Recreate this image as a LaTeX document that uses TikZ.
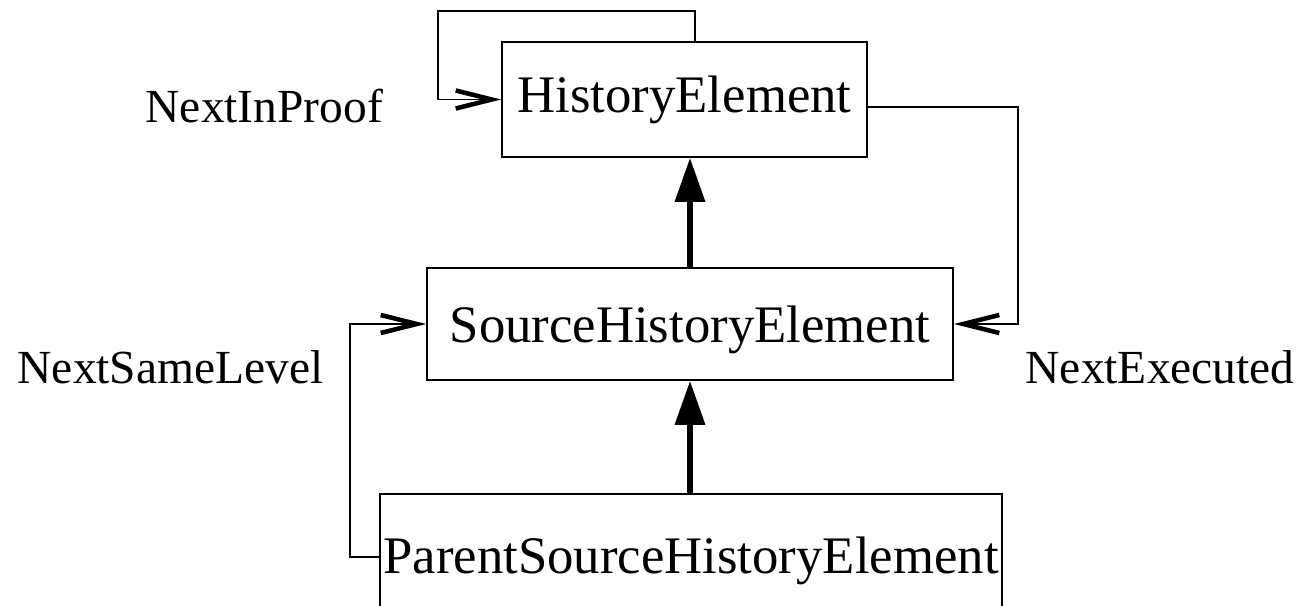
\documentclass[tikz,border=0pt]{standalone}
\usepackage{fontspec}
\setmainfont{Liberation Serif}
\usepackage{tikz}
\usetikzlibrary{arrows.meta}
\tikzset{box/.style={draw,line width=0.4pt,inner sep=0pt,text depth=0pt,font=\fontsize{15}{18}\selectfont},
 tag/.style={anchor=base west,inner sep=0pt,font=\fontsize{13.5}{16}\selectfont},
 link/.style={draw,line width=0.4pt,-{Straight Barb[length=3.6mm,width=1.8mm,line width=1.3pt]}},
 isa/.style={draw,line width=1.8pt,-{Triangle[length=4.4mm,width=2.9mm]}},
 }

\begin{document}
\begin{tikzpicture}[x=0.01cm,y=-0.01cm]
        \useasboundingbox (0,0) rectangle (1302,606);
        \clip (0,0) rectangle (1302,606);
        \node[box,minimum width=3.65cm,minimum height=1.15cm,text height=0.25cm] (he) at (684.5,99.5) {HistoryElement};
        \node[box,minimum width=5.26cm,minimum height=1.12cm,text height=0.36cm] (she) at (690,324) {SourceHistoryElement};
        \node[box,minimum width=6.22cm,minimum height=1.15cm,text height=0.43cm] (pshe) at (691,551.5) {ParentSourceHistoryElement};
        \node[tag] (nip) at (145,123) {NextInProof};
        \node[tag] (nsl) at (17,383) {NextSameLevel};
        \node[tag] (nex) at (1025,383) {NextExecuted};
        % inheritance
        \draw[isa] (she.north) -- (she.north |- he.south);
        \draw[isa] (she.south |- pshe.north) -- (she.south);
        % pointers
        \coordinate (ip) at (695,11);
        \coordinate (ipl) at (438,11);
        \draw[link] (ip |- he.north) -- (ip) -| (ipl |- he.west) -- (he.west);
        \coordinate (ex) at (1018,107);
        \draw[link] (ex -| he.east) -- (ex) |- (she.east);
        \coordinate (sl) at (350,557);
        \draw[link] (sl -| pshe.west) -- (sl) |- (she.west);
    \end{tikzpicture}
\end{document}
